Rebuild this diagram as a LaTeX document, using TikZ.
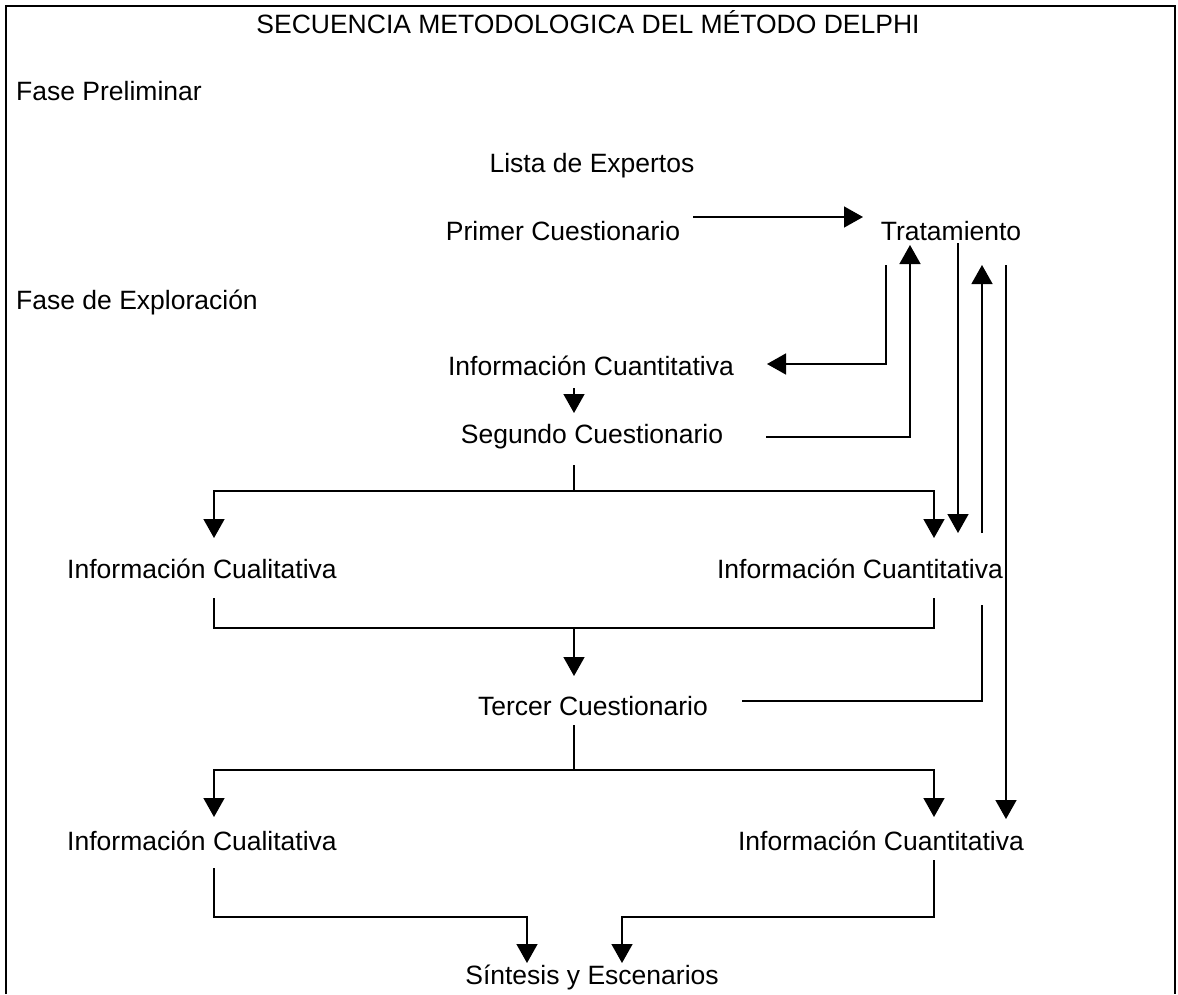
\documentclass[tikz,border=0pt]{standalone}
\usepackage{fontspec}
\setmainfont{Liberation Sans}
\usetikzlibrary{arrows.meta,calc,positioning}

\begin{document}
\begin{tikzpicture}[x=1pt,y=-1pt,
    texto/.style={anchor=base,inner sep=0pt,font=\fontsize{26.5}{30}\selectfont},
    izq/.style={texto,anchor=base west},
    linea/.style={line width=1.5pt},
    flecha/.style={linea,-{Triangle[length=19pt,width=21pt]}}]
  \useasboundingbox (0,0) rectangle (1178,994);
  % marco abierto por abajo
  \draw[line width=2.5pt] (6,994) -- (6,6) -- (1175,6) -- (1175,994);

  % textos
  \node[texto] (titulo) at (588,33) {SECUENCIA METODOLOGICA DEL MÉTODO DELPHI};
  \node[izq] (fprel) at (16,100) {Fase Preliminar};
  \node[texto] (lista) at (592,172) {Lista de Expertos};
  \node[texto] (primer) at (563,240) {Primer Cuestionario};
  \node[texto] (trat) at (951,240) {Tratamiento};
  \node[izq] (fexpl) at (16,309) {Fase de Exploración};
  \node[texto] (cuant1) at (591,375) {Información Cuantitativa};
  \node[texto] (segundo) at (592,443) {Segundo Cuestionario};
  \node[texto] (cuali2) at (202,578) {Información Cualitativa};
  \node[texto] (cuant2) at (860,578) {Información Cuantitativa};
  \node[texto] (tercer) at (593,715) {Tercer Cuestionario};
  \node[texto] (cuali3) at (202,850) {Información Cualitativa};
  \node[texto] (cuant3) at (881,850) {Información Cuantitativa};
  \node[texto] (sintesis) at (592,984) {Síntesis y Escenarios};

  % puntos de union
  \coordinate (p1) at (693,217);   \coordinate (t1) at (863,217);
  \coordinate (t2) at (886,265);   \coordinate (c1) at (767,364);
  \coordinate (c1b) at (574,388);  \coordinate (s1) at (574,413);
  \coordinate (s2) at (766,437);   \coordinate (t3) at (910,245);
  \coordinate (s3) at (574,465);   \coordinate (r2) at (574,491);
  \coordinate (a2) at (214,538);   \coordinate (b2) at (934,538);
  \coordinate (t4) at (958,243);   \coordinate (d2) at (958,533);
  \coordinate (u2) at (982,533);   \coordinate (t5) at (982,265);
  \coordinate (t6) at (1006,265);  \coordinate (d3) at (1006,819);
  \coordinate (a2b) at (214,598);  \coordinate (b2b) at (934,598);
  \coordinate (m2) at (574,628);   \coordinate (e3) at (574,676);
  \coordinate (e3b) at (742,701);  \coordinate (u3) at (982,605);
  \coordinate (e3c) at (574,725);  \coordinate (r3) at (574,770);
  \coordinate (a3) at (214,817);   \coordinate (b3) at (934,817);
  \coordinate (a3b) at (214,868);  \coordinate (b3b) at (934,860);
  \coordinate (f1) at (527,963);   \coordinate (f2) at (622,963);

  % conectores
  \draw[flecha] (p1) -- (t1);
  \draw[flecha] (t2) |- (c1);
  \draw[flecha] (c1b) -- (s1);
  \draw[flecha] (s2) -| (t3);
  \draw[linea] (s3) -- (r2);
  \draw[flecha] (r2) -| (a2);
  \draw[flecha] (r2) -| (b2);
  \draw[flecha] (t4) -- (d2);
  \draw[flecha] (u2) -- (t5);
  \draw[flecha] (t6) -- (d3);
  \draw[linea] (a2b) |- (m2) -| (b2b);
  \draw[flecha] (m2) -- (e3);
  \draw[linea] (e3b) -| (u3);
  \draw[linea] (e3c) -- (r3);
  \draw[flecha] (r3) -| (a3);
  \draw[flecha] (r3) -| (b3);
  \draw[flecha] (a3b) |- ($(f1)+(0,-46)$) -- (f1);
  \draw[flecha] (b3b) |- ($(f2)+(0,-46)$) -- (f2);
\end{tikzpicture}
\end{document}
